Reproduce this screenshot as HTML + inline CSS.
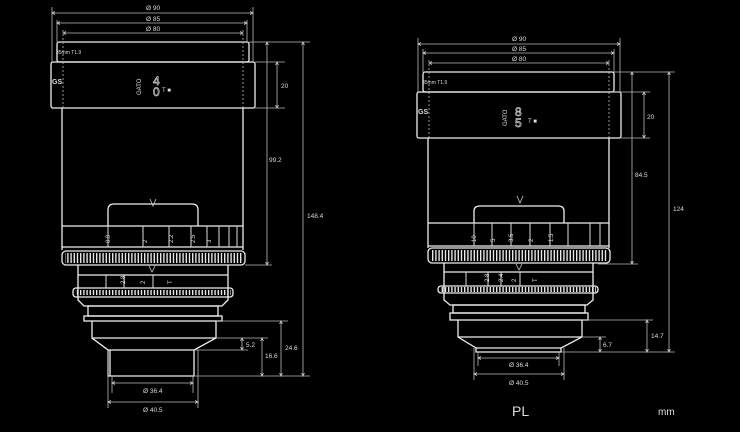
<!DOCTYPE html>
<html><head><meta charset="utf-8"><style>
html,body{margin:0;padding:0;background:#000;}
svg{display:block}
text{font-family:"Liberation Sans",sans-serif;fill:#ddd;}
</style></head><body>
<svg width="740" height="432" viewBox="0 0 740 432" xmlns="http://www.w3.org/2000/svg">
<defs>
<pattern id="teeth" width="3.2" height="20" patternUnits="userSpaceOnUse">
<rect x="0" y="0" width="1.4" height="20" fill="#e6e6e6"/>
</pattern>
<marker id="a" markerWidth="6" markerHeight="6" refX="3" refY="3" orient="auto-start-reverse" markerUnits="userSpaceOnUse"><path d="M0,1.5 L3,3 L0,4.5" fill="none" stroke="#ccc" stroke-width="0.8"/></marker>
</defs>
<g fill="none" stroke="#eee" stroke-width="1.3">
<!-- LEFT LENS -->
<rect x="57" y="42" width="192" height="20" rx="2"/>
<rect x="51" y="62" width="204" height="46" rx="2"/>
<line x1="62" y1="108" x2="62" y2="250"/><line x1="243" y1="108" x2="243" y2="250"/>
<path d="M108,226 V210 Q108,204 114,204 H192 Q198,204 198,210 V226"/>
<line x1="62" y1="226" x2="243" y2="226"/>
<line x1="62" y1="247" x2="243" y2="247"/>
<rect x="62" y="251" width="183" height="14" rx="4"/>
<rect x="65" y="253" width="177" height="10" fill="url(#teeth)" stroke="none"/>
<path d="M78,265 V300 L84,306 H222 L228,300 V265"/>
<line x1="78" y1="275" x2="228" y2="275"/>
<rect x="73" y="288" width="160" height="9" rx="3"/>
<rect x="75" y="290" width="156" height="5" fill="url(#teeth)" stroke="none"/>
<rect x="88" y="306" width="130" height="10"/>
<rect x="84" y="316" width="138" height="5"/>
<path d="M92,321 V338 L108,350 V376 H194 V350 L216,338 V321"/>
<line x1="92" y1="338" x2="216" y2="338"/>
<line x1="108" y1="350" x2="194" y2="350"/>
<line x1="110" y1="350" x2="110" y2="376"/>
<!-- RIGHT LENS -->
<rect x="423" y="72" width="191" height="20" rx="2"/>
<rect x="417" y="92" width="204" height="46" rx="2"/>
<line x1="428" y1="138" x2="428" y2="248"/><line x1="609" y1="138" x2="609" y2="248"/>
<path d="M474,223 V211 Q474,206 480,206 H558 Q564,206 564,211 V223"/>
<line x1="428" y1="223" x2="609" y2="223"/>
<line x1="428" y1="246" x2="609" y2="246"/>
<rect x="428" y="248" width="182" height="15" rx="4"/>
<rect x="431" y="250" width="176" height="11" fill="url(#teeth)" stroke="none"/>
<path d="M444,263 V300 L450,305 H587 L593,300 V263"/>
<line x1="444" y1="272" x2="593" y2="272"/>
<rect x="438" y="286" width="160" height="7" rx="3"/>
<rect x="440" y="287" width="156" height="5" fill="url(#teeth)" stroke="none"/>
<rect x="453" y="305" width="132" height="8"/>
<rect x="450" y="313" width="138" height="7"/>
<path d="M458,320 V337 L476,348 V352 H561 V348 L582,337 V320"/>
<line x1="458" y1="337" x2="582" y2="337"/>
<line x1="476" y1="348" x2="561" y2="348"/>
</g>
<!-- scale ticks -->
<g stroke="#ddd" stroke-width="1">
<line x1="108" y1="226" x2="108" y2="247"/><line x1="143" y1="226" x2="143" y2="247"/><line x1="169" y1="226" x2="169" y2="247"/><line x1="191" y1="226" x2="191" y2="247"/><line x1="207" y1="226" x2="207" y2="247"/><line x1="219" y1="226" x2="219" y2="247"/><line x1="229" y1="226" x2="229" y2="247"/><line x1="237" y1="226" x2="237" y2="247"/>
<line x1="474" y1="223" x2="474" y2="246"/><line x1="492" y1="223" x2="492" y2="246"/><line x1="511" y1="223" x2="511" y2="246"/><line x1="530" y1="223" x2="530" y2="246"/><line x1="550" y1="223" x2="550" y2="246"/><line x1="568" y1="223" x2="568" y2="246"/><line x1="590" y1="223" x2="590" y2="246"/><line x1="600" y1="223" x2="600" y2="246"/>
<line x1="106" y1="275" x2="106" y2="288"/><line x1="124" y1="275" x2="124" y2="288"/><line x1="153" y1="275" x2="153" y2="288"/>
<line x1="466" y1="272" x2="466" y2="286"/><line x1="488" y1="272" x2="488" y2="286"/><line x1="501" y1="272" x2="501" y2="286"/><line x1="520" y1="272" x2="520" y2="286"/>
</g>
<g font-size="6" fill="#ddd">
<text x="110" y="243" transform="rotate(-90 110 243)">0.9</text><text x="147" y="243" transform="rotate(-90 147 243)">2</text><text x="173" y="243" transform="rotate(-90 173 243)">2.2</text><text x="195" y="243" transform="rotate(-90 195 243)">2.5</text><text x="211" y="243" transform="rotate(-90 211 243)">3</text>
<text x="145" y="284" transform="rotate(-90 145 284)">2</text><text x="172" y="284" transform="rotate(-90 172 284)">T</text><text x="125" y="284" transform="rotate(-90 125 284)">2.8</text>
<text x="476" y="242" transform="rotate(-90 476 242)">10</text><text x="495" y="242" transform="rotate(-90 495 242)">5</text><text x="513" y="242" transform="rotate(-90 513 242)">3.5</text><text x="533" y="242" transform="rotate(-90 533 242)">2</text><text x="553" y="242" transform="rotate(-90 553 242)">1.5</text>
<text x="489" y="282" transform="rotate(-90 489 282)">2.8</text><text x="503" y="282" transform="rotate(-90 503 282)">2.4</text><text x="516" y="282" transform="rotate(-90 516 282)">2</text><text x="537" y="282" transform="rotate(-90 537 282)">T</text>
<text x="56" y="54" font-size="5">35mm T1.9</text><text x="422" y="84" font-size="5">35mm T1.9</text>
<text x="141" y="95" transform="rotate(-90 141 95)" font-size="6">GATO</text>
<text x="507" y="126" transform="rotate(-90 507 126)" font-size="6">GATO</text>
<text x="153" y="85" font-size="12" style="fill:none;stroke:#ccc;stroke-width:0.7">4</text>
<text x="153" y="96" font-size="12" style="fill:none;stroke:#ccc;stroke-width:0.7">0</text>
<text x="515" y="116" font-size="12" style="fill:none;stroke:#ccc;stroke-width:0.7">8</text>
<text x="515" y="127" font-size="12" style="fill:none;stroke:#ccc;stroke-width:0.7">5</text>
<text x="162" y="92" font-size="6">T ■</text>
<text x="528" y="123" font-size="6">T ■</text>
<text x="52" y="84" font-size="7" font-weight="bold">GS</text>
<text x="418" y="114" font-size="7" font-weight="bold">GS</text>
</g>
<path d="M150,199 L153,206 L156,199" fill="none" stroke="#ccc" stroke-width="0.8"/>
<path d="M149,266 L152,272 L155,266" fill="none" stroke="#ccc" stroke-width="0.8"/>
<path d="M517,196 L520,203 L523,196" fill="none" stroke="#ccc" stroke-width="0.8"/>
<path d="M516,264 L519,270 L522,264" fill="none" stroke="#ccc" stroke-width="0.8"/>
<!-- dimension lines -->
<g stroke="#bbb" stroke-width="0.8" fill="none">
<line x1="52" y1="7" x2="52" y2="62"/><line x1="253" y1="7" x2="253" y2="62"/>
<line x1="57" y1="20" x2="57" y2="42"/><line x1="247" y1="20" x2="247" y2="42"/>
<line x1="63" y1="30" x2="63" y2="108" stroke-dasharray="2,2"/><line x1="243" y1="30" x2="243" y2="108" stroke-dasharray="2,2"/>
<line x1="52" y1="13" x2="253" y2="13" marker-start="url(#a)" marker-end="url(#a)"/>
<line x1="57" y1="23" x2="247" y2="23" marker-start="url(#a)" marker-end="url(#a)"/>
<line x1="63" y1="33" x2="243" y2="33" marker-start="url(#a)" marker-end="url(#a)"/>
<line x1="249" y1="42" x2="310" y2="42"/><line x1="255" y1="62" x2="285" y2="62"/><line x1="255" y1="108" x2="285" y2="108"/>
<line x1="245" y1="265" x2="272" y2="265"/><line x1="194" y1="376" x2="310" y2="376"/>
<line x1="216" y1="321" x2="288" y2="321"/><line x1="216" y1="338" x2="268" y2="338"/><line x1="194" y1="350" x2="248" y2="350"/>
<line x1="267" y1="42" x2="267" y2="265" marker-start="url(#a)" marker-end="url(#a)"/>
<line x1="303" y1="42" x2="303" y2="376" marker-start="url(#a)" marker-end="url(#a)"/>
<line x1="277" y1="62" x2="277" y2="108" marker-start="url(#a)" marker-end="url(#a)"/>
<line x1="281" y1="321" x2="281" y2="376" marker-start="url(#a)" marker-end="url(#a)"/>
<line x1="262" y1="338" x2="262" y2="376" marker-start="url(#a)" marker-end="url(#a)"/>
<line x1="242" y1="338" x2="242" y2="350" marker-start="url(#a)" marker-end="url(#a)"/>
<line x1="112" y1="376" x2="112" y2="393"/><line x1="193" y1="376" x2="193" y2="393"/>
<line x1="108" y1="350" x2="108" y2="408"/><line x1="198" y1="350" x2="198" y2="408"/>
<line x1="112" y1="383" x2="193" y2="383" marker-start="url(#a)" marker-end="url(#a)"/>
<line x1="108" y1="402" x2="198" y2="402" marker-start="url(#a)" marker-end="url(#a)"/>
<!-- right -->
<line x1="418" y1="38" x2="418" y2="92"/><line x1="620" y1="38" x2="620" y2="92"/>
<line x1="423" y1="49" x2="423" y2="72"/><line x1="614" y1="49" x2="614" y2="72"/>
<line x1="429" y1="60" x2="429" y2="138" stroke-dasharray="2,2"/><line x1="609" y1="60" x2="609" y2="138" stroke-dasharray="2,2"/>
<line x1="418" y1="44" x2="620" y2="44" marker-start="url(#a)" marker-end="url(#a)"/>
<line x1="423" y1="53" x2="614" y2="53" marker-start="url(#a)" marker-end="url(#a)"/>
<line x1="429" y1="63" x2="609" y2="63" marker-start="url(#a)" marker-end="url(#a)"/>
<line x1="614" y1="72" x2="675" y2="72"/><line x1="600" y1="92" x2="650" y2="92"/><line x1="621" y1="138" x2="650" y2="138"/>
<line x1="598" y1="264" x2="638" y2="264"/><line x1="561" y1="352" x2="675" y2="352"/>
<line x1="582" y1="320" x2="653" y2="320"/><line x1="582" y1="337" x2="606" y2="337"/>
<line x1="632" y1="72" x2="632" y2="264" marker-start="url(#a)" marker-end="url(#a)"/>
<line x1="669" y1="72" x2="669" y2="352" marker-start="url(#a)" marker-end="url(#a)"/>
<line x1="644" y1="92" x2="644" y2="138" marker-start="url(#a)" marker-end="url(#a)"/>
<line x1="647" y1="320" x2="647" y2="352" marker-start="url(#a)" marker-end="url(#a)"/>
<line x1="600" y1="337" x2="600" y2="352" marker-start="url(#a)" marker-end="url(#a)"/>
<line x1="478" y1="352" x2="478" y2="366"/><line x1="559" y1="352" x2="559" y2="366"/>
<line x1="474" y1="348" x2="474" y2="380"/><line x1="564" y1="348" x2="564" y2="380"/>
<line x1="478" y1="358" x2="559" y2="358" marker-start="url(#a)" marker-end="url(#a)"/>
<line x1="474" y1="374" x2="564" y2="374" marker-start="url(#a)" marker-end="url(#a)"/>
</g>
<g font-size="6.5" fill="#ccc">
<text x="146" y="10">Ø 90</text><text x="146" y="21">Ø 85</text><text x="146" y="31">Ø 80</text>
<text x="281" y="88">20</text><text x="269" y="162">99.2</text><text x="307" y="218">148.4</text>
<text x="285" y="350">24.6</text><text x="265" y="358">16.6</text><text x="246" y="347">5.2</text>
<text x="143" y="393">Ø 36.4</text><text x="143" y="412">Ø 40.5</text>
<text x="512" y="41">Ø 90</text><text x="512" y="51">Ø 85</text><text x="512" y="61">Ø 80</text>
<text x="647" y="119">20</text><text x="635" y="177">84.5</text><text x="673" y="211">124</text>
<text x="651" y="338">14.7</text><text x="603" y="347">6.7</text>
<text x="509" y="367">Ø 36.4</text><text x="509" y="385">Ø 40.5</text>
</g>
<text x="512" y="416" font-size="14" fill="#eee">PL</text>
<text x="658" y="415" font-size="10" fill="#eee">mm</text>
</svg>
</body></html>
